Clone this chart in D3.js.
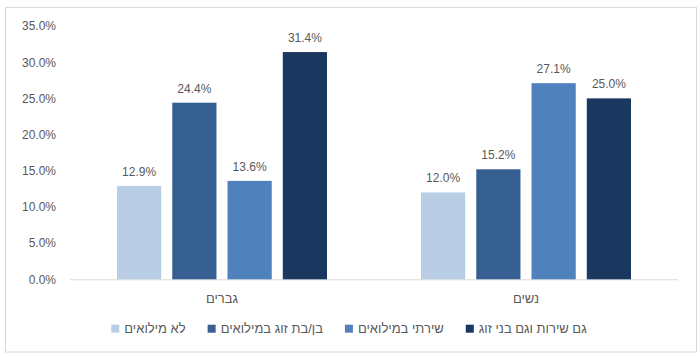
<!DOCTYPE html>
<html><head><meta charset="utf-8">
<script src="https://cdn.jsdelivr.net/npm/d3@7"></script>
<style>body{margin:0;background:#fff}svg{display:block}text{font-family:"Liberation Sans","DejaVu Sans",Arial,sans-serif;fill:#595959}</style>
</head><body><svg id="c" width="700" height="357"></svg>
<script>
const groups = ["גברים", "נשים"];
const seriesNames = ["לא מילואים", "בן/בת זוג במילואים", "שירתי במילואים", "גם שירות וגם בני זוג"];
const seriesColors = ["#B9CDE5", "#376092", "#4F81BD", "#1A3760"];
const men = [12.9, 24.4, 13.6, 31.4];
const women = [12.0, 15.2, 27.1, 25.0];
const values = [men, women];
const yTicks = [0, 5, 10, 15, 20, 25, 30, 35];

const svg = d3.select("#c");
svg.append("rect").attr("x",5.5).attr("y",7.5).attr("width",691).attr("height",344.5)
  .attr("fill","#fff").attr("stroke","#D9D9D9");

const y = d3.scaleLinear().domain([0,35]).range([279.3,26]);
const x0 = d3.scaleBand().domain(groups).range([70,678]).padding(0);
const bw = x0.bandwidth();
const x1 = d3.scaleBand().domain(seriesNames).range([47, bw-47]).paddingInner(0.2);

// y axis labels
const yAxis = d3.axisLeft(y).tickValues(yTicks).tickFormat(d=>d.toFixed(1)+"%").tickSize(0).tickPadding(0);
const ga = svg.append("g").attr("transform","translate(56,0)").call(yAxis);
ga.select(".domain").remove();
ga.selectAll("text").attr("font-size",12).style("fill","#595959").attr("font-family","Liberation Sans, DejaVu Sans, sans-serif");

// baseline
svg.append("line").attr("x1",70).attr("x2",678).attr("y1",y(0)+0.5).attr("y2",y(0)+0.5)
  .attr("stroke","#D9D9D9").attr("stroke-width",1);

// bars
groups.forEach((g,gi)=>{
  const gg = svg.append("g").attr("transform",`translate(${x0(g)},0)`);
  gg.selectAll("rect").data(values[gi]).join("rect")
    .attr("x",(d,i)=>x1(seriesNames[i]))
    .attr("y",d=>y(d)).attr("width",x1.bandwidth()).attr("height",d=>y(0)-y(d))
    .attr("fill",(d,i)=>seriesColors[i]);
  gg.selectAll("text").data(values[gi]).join("text")
    .attr("x",(d,i)=>x1(seriesNames[i])+x1.bandwidth()/2)
    .attr("y",d=>y(d)-10).attr("text-anchor","middle").attr("font-size",12)
    .text(d=>d.toFixed(1)+"%");
  svg.append("text").attr("x",x0(g)+bw/2).attr("y",303).attr("text-anchor","middle")
    .attr("font-size",13).text(g);
});

// legend
const leg = svg.append("g");
const items = seriesNames.map((s,i)=>{
  const it = leg.append("g");
  it.append("rect").attr("width",8).attr("height",8).attr("y",-4).attr("fill",seriesColors[i]);
  const t = it.append("text").attr("x",13).attr("y",4.5).attr("font-size",13)
    .attr("text-anchor","start").text(s);
  const w = t.node().getComputedTextLength();
  return {it, w: 13+w};
});
const gap = 22;
const total = d3.sum(items,d=>d.w) + gap*(items.length-1);
let cx = 349 - total/2;
items.forEach(d=>{ d.it.attr("transform",`translate(${cx},328.7)`); cx += d.w + gap; });
</script></body></html>
